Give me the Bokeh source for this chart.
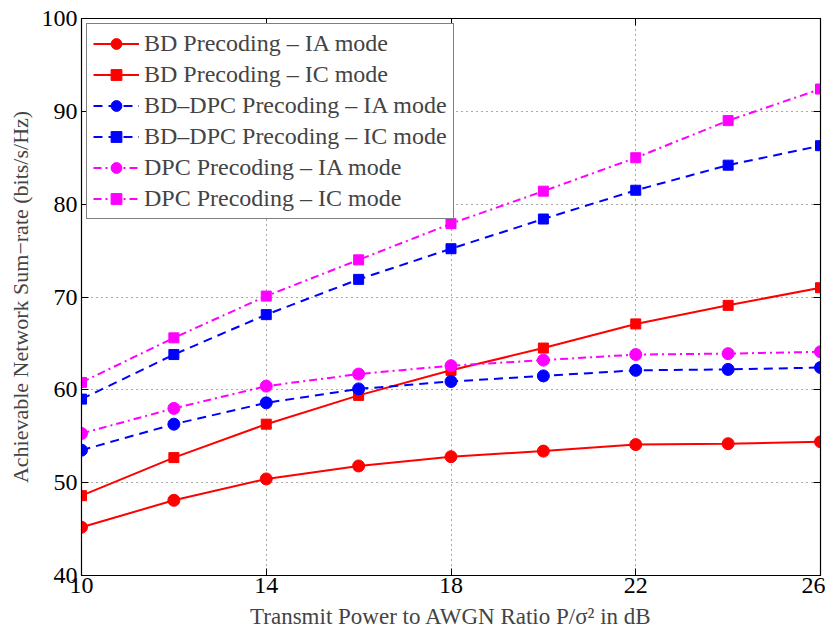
from bokeh.plotting import figure
from bokeh.models import LinearAxis, Legend, LegendItem, FixedTicker, Range1d
from bokeh.embed import file_html
from bokeh.resources import INLINE

snr = [10, 12, 14, 16, 18, 20, 22, 24, 26]
bd_ia = [45.2, 48.1, 50.4, 51.8, 52.8, 53.4, 54.1, 54.2, 54.4]
bd_ic = [48.6, 52.7, 56.3, 59.4, 62.1, 64.5, 67.1, 69.1, 71.0]
bddpc_ia = [53.5, 56.3, 58.6, 60.1, 60.9, 61.5, 62.1, 62.2, 62.4]
bddpc_ic = [59.0, 63.8, 68.1, 71.9, 75.2, 78.4, 81.5, 84.2, 86.3]
dpc_ia = [55.3, 58.0, 60.4, 61.7, 62.6, 63.2, 63.8, 63.9, 64.1]
dpc_ic = [60.8, 65.6, 70.1, 74.0, 77.9, 81.4, 85.0, 89.0, 92.4]
x_ticks = [10, 14, 18, 22, 26]
y_ticks = [40, 50, 60, 70, 80, 90, 100]
labels = ["BD Precoding \u2013 IA mode", "BD Precoding \u2013 IC mode",
          "BD\u2013DPC Precoding \u2013 IA mode", "BD\u2013DPC Precoding \u2013 IC mode",
          "DPC Precoding \u2013 IA mode", "DPC Precoding \u2013 IC mode"]

FONT = "Liberation Serif"

p = figure(width=825, height=634, output_backend="svg", toolbar_location=None,
           x_range=Range1d(10, 26), y_range=Range1d(40, 100),
           min_border_left=81, min_border_right=5, min_border_top=18, min_border_bottom=59)
p.outline_line_color = "black"
p.outline_line_width = 1.2

series = [
    (bd_ia, "#ff0000", "solid", "circle"),
    (bd_ic, "#ff0000", "solid", "square"),
    (bddpc_ia, "#0000ff", "9 6", "circle"),
    (bddpc_ic, "#0000ff", "9 6", "square"),
    (dpc_ia, "#ff00ff", "8 4 2 4", "circle"),
    (dpc_ic, "#ff00ff", "8 4 2 4", "square"),
]

items = []
for (vals, col, dash, marker), lab in zip(series, labels):
    r1 = p.line(snr, vals, line_color=col, line_width=2, line_dash=dash)
    if marker == "circle":
        r2 = p.scatter(snr, vals, marker="circle", size=12, fill_color=col, line_color=col)
    else:
        r2 = p.scatter(snr, vals, marker="square", size=10, fill_color=col, line_color=col)
    items.append(LegendItem(label=lab, renderers=[r1, r2]))

for ax in p.xaxis + p.yaxis:
    ax.major_label_text_font = FONT
    ax.major_label_text_font_size = "24px"
    ax.major_label_text_color = "black"
    ax.axis_label_text_font = FONT
    ax.axis_label_text_font_size = "22px"
    ax.axis_label_text_font_style = "normal"
    ax.major_tick_in = 7
    ax.major_tick_out = 0
    ax.minor_tick_line_color = None
    ax.axis_line_color = "black"

p.xaxis.ticker = FixedTicker(ticks=x_ticks)
p.yaxis.ticker = FixedTicker(ticks=y_ticks)
p.xaxis.axis_label = "Transmit Power to AWGN Ratio P/\u03c3\u00b2 in dB"
p.xaxis.axis_label_text_font_size = "23px"
p.yaxis.axis_label = "Achievable Network Sum\u2212rate (bits/s/Hz)"
p.xaxis.axis_label_standoff = 8
p.yaxis.axis_label_standoff = 6
p.xaxis.major_label_standoff = 2
p.yaxis.major_label_standoff = 4

top = LinearAxis(ticker=FixedTicker(ticks=x_ticks), major_label_text_font_size="0px",
                 major_tick_in=7, major_tick_out=0, minor_tick_line_color=None)
right = LinearAxis(ticker=FixedTicker(ticks=y_ticks), major_label_text_font_size="0px",
                   major_tick_in=7, major_tick_out=0, minor_tick_line_color=None)
p.add_layout(top, "above")
p.add_layout(right, "right")
top.major_label_text_color = None
right.major_label_text_color = None

p.xgrid.ticker = FixedTicker(ticks=x_ticks)
p.ygrid.ticker = FixedTicker(ticks=y_ticks)
for g in (p.xgrid, p.ygrid):
    g.grid_line_color = "#555555"
    g.grid_line_dash = "1 4"
    g.grid_line_width = 1

legend = Legend(items=items, location="top_left")
legend.label_text_font = FONT
legend.label_text_font_size = "24px"
legend.glyph_width = 46
legend.glyph_height = 27
legend.label_height = 27
legend.spacing = 4
legend.padding = 6
legend.margin = 5
legend.border_line_color = "black"
legend.border_line_width = 1.2
legend.background_fill_alpha = 1
p.add_layout(legend)

open("out.html", "w").write(file_html(p, INLINE))
